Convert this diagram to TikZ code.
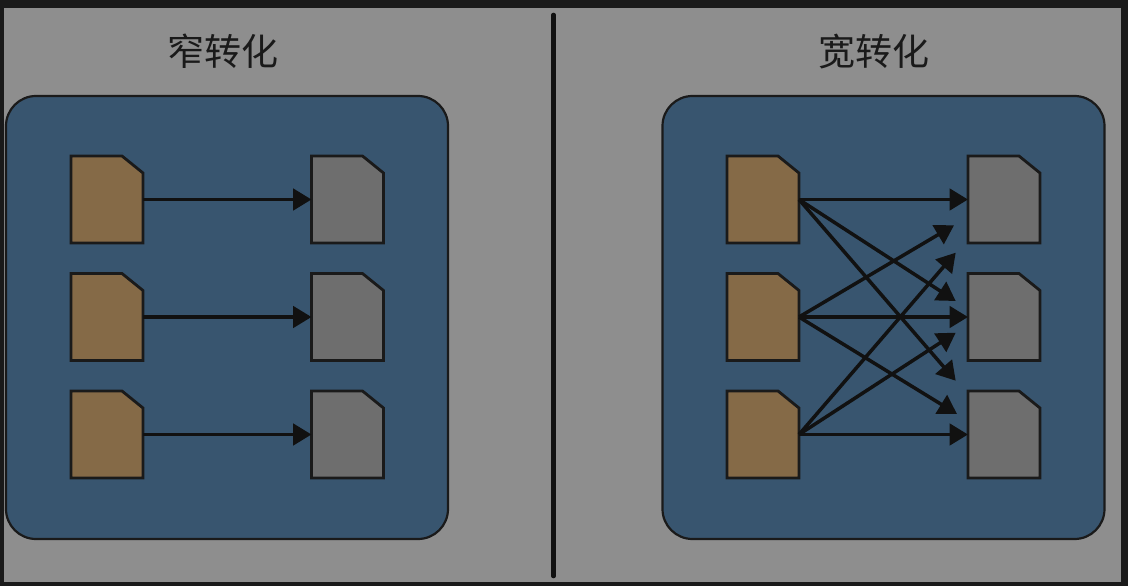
\documentclass[tikz,border=0pt]{standalone}
\usepackage{fontspec}
\newfontfamily\cjk{Noto Sans CJK SC}
\usetikzlibrary{arrows.meta}
\definecolor{frameC}{HTML}{1A1A1A}
\definecolor{bgC}{HTML}{8E8E8E}
\definecolor{panelC}{HTML}{38556F}
\definecolor{srcC}{HTML}{856A47}
\definecolor{dstC}{HTML}{6E6E6E}
\definecolor{inkC}{HTML}{111111}
\tikzset{
  docframe/.style={minimum width=72pt,minimum height=87pt,inner sep=0pt,outer sep=0pt},
  docline/.style={draw=frameC,line width=2.8pt,line join=miter},
  panel/.style={draw=frameC,line width=2.2pt,fill=panelC,rounded corners=30pt,minimum width=442pt,minimum height=443pt,inner sep=0pt,outer sep=0pt},
  title/.style={font=\cjk\fontsize{37pt}{40pt}\selectfont,text=frameC,inner sep=0pt},
  link/.style={draw=inkC,line width=3.5pt,-{Triangle[length=18.5pt,width=21.5pt,fill=inkC]},shorten >=0pt},
  divider/.style={draw=inkC,line width=4.6pt,line cap=round}
}
\newcommand\docnode[4]{%
  \node[docframe] (#1) at (#2,#3) {};
  \draw[docline,fill=#4] (#1.north west) -- ([xshift=-21pt]#1.north east) -- ([yshift=-17pt]#1.north east) -- (#1.south east) -- (#1.south west) -- cycle;
}
\begin{document}
\begin{tikzpicture}[x=1pt,y=-1pt]
\useasboundingbox (0,0) rectangle (1128,586);
\fill[frameC] (0,0) rectangle (1128,586);
\fill[bgC] (4,8) rectangle (1121,582);
\node[panel] (leftpanel) at (227,317.5) {};
\node[panel] (rightpanel) at (883.5,317.5) {};
\node[title] (lefttitle) at (222.5,51.5) {窄转化};
\node[title] (righttitle) at (874,51.5) {宽转化};
\coordinate (divtop) at (553.5,15);
\coordinate (divbot) at (553.5,576);
\draw[divider] (divtop) -- (divbot);
% left
\docnode{la}{107}{199.5}{srcC}
\docnode{lb}{107}{317}{srcC}
\docnode{lc}{107}{434.5}{srcC}
\docnode{lx}{347.5}{199.5}{dstC}
\docnode{ly}{347.5}{317}{dstC}
\docnode{lz}{347.5}{434.5}{dstC}
\draw[link] (la.east) -- (lx.west);
\draw[link] (lb.east) -- (ly.west);
\draw[link] (lc.east) -- (lz.west);
% right
\docnode{ra}{763}{199.5}{srcC}
\docnode{rb}{763}{317}{srcC}
\docnode{rc}{763}{434.5}{srcC}
\docnode{rx}{1004}{199.5}{dstC}
\docnode{ry}{1004}{317}{dstC}
\docnode{rz}{1004}{434.5}{dstC}
\coordinate (e1) at (955.7,301);
\coordinate (e2) at (955.7,380.7);
\coordinate (e3) at (954,225.3);
\coordinate (e4) at (957,414);
\coordinate (e5) at (955.7,252.7);
\coordinate (e6) at (955.7,332.7);
\draw[link] (ra.east) -- (rx.west);
\draw[link] (ra.east) -- (e1);
\draw[link] (ra.east) -- (e2);
\draw[link] (rb.east) -- (e3);
\draw[link] (rb.east) -- (ry.west);
\draw[link] (rb.east) -- (e4);
\draw[link] (rc.east) -- (e5);
\draw[link] (rc.east) -- (e6);
\draw[link] (rc.east) -- (rz.west);
\end{tikzpicture}
\end{document}
